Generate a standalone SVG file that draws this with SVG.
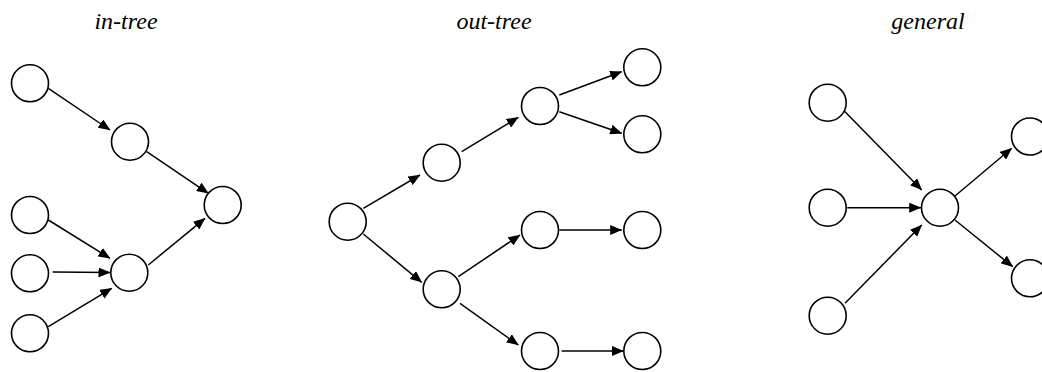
<svg xmlns="http://www.w3.org/2000/svg" width="1042" height="372" viewBox="0 0 1042 372">
<style>
.n{fill:#fff;stroke:#000;stroke-width:1.6}
.e{stroke:#000;stroke-width:1.5;fill:none;marker-end:url(#ah)}
.t{font-family:"Liberation Serif","Times New Roman",serif;font-style:italic;font-size:24px;text-anchor:middle;fill:#000}
</style>
<defs>
<marker id="ah" markerUnits="userSpaceOnUse" markerWidth="12" markerHeight="10" refX="11.5" refY="5" orient="auto">
<path d="M0,0 L12,5 L0,10 Z" fill="#000"/>
</marker>
</defs>
<rect width="1042" height="372" fill="#fff"/>
<g id="labels">
<text class="t" x="126" y="29">in-tree</text>
<text class="t" x="494" y="29">out-tree</text>
<text class="t" x="928" y="29">general</text>
</g>
<g id="connectors">
<line class="e" x1="48.3" y1="88.3" x2="110" y2="130"/>
<line class="e" x1="146.7" y1="151.7" x2="208.3" y2="193.3"/>
<line class="e" x1="148.3" y1="265" x2="205" y2="218.3"/>
<line class="e" x1="48.3" y1="220" x2="110" y2="258.3"/>
<line class="e" x1="52.7" y1="272" x2="110" y2="272.5"/>
<line class="e" x1="48.3" y1="326.7" x2="111.7" y2="288.3"/>
<line class="e" x1="363.3" y1="208.3" x2="420" y2="175"/>
<line class="e" x1="363.3" y1="234" x2="421.7" y2="282.3"/>
<line class="e" x1="461.7" y1="151.7" x2="518.3" y2="117.3"/>
<line class="e" x1="559.3" y1="95" x2="621.7" y2="71.7"/>
<line class="e" x1="559.3" y1="111.7" x2="621.7" y2="133.3"/>
<line class="e" x1="458.3" y1="276.7" x2="520" y2="235"/>
<line class="e" x1="460" y1="303.3" x2="518.3" y2="345"/>
<line class="e" x1="559.3" y1="230" x2="621.7" y2="230"/>
<line class="e" x1="561.7" y1="351" x2="623.3" y2="351"/>
<line class="e" x1="843.3" y1="110" x2="921.7" y2="190"/>
<line class="e" x1="847.3" y1="207.7" x2="920.7" y2="207.7"/>
<line class="e" x1="845" y1="303.3" x2="921.7" y2="225"/>
<line class="e" x1="955" y1="196" x2="1011.7" y2="148.3"/>
<line class="e" x1="955" y1="220" x2="1012.7" y2="266.7"/>
</g>
<g id="in-a"><circle class="n" cx="30" cy="83.3" r="18.5"/></g>
<g id="in-b"><circle class="n" cx="130" cy="141.7" r="18.5"/></g>
<g id="in-c"><circle class="n" cx="222.7" cy="205" r="18.5"/></g>
<g id="in-d"><circle class="n" cx="30" cy="215" r="18.5"/></g>
<g id="in-e"><circle class="n" cx="30" cy="273.3" r="18.5"/></g>
<g id="in-f"><circle class="n" cx="30" cy="333.3" r="18.5"/></g>
<g id="in-g"><circle class="n" cx="129.3" cy="272.7" r="18.5"/></g>
<g id="out-root"><circle class="n" cx="347.7" cy="221.7" r="18.5"/></g>
<g id="out-um"><circle class="n" cx="441.7" cy="162.7" r="18.5"/></g>
<g id="out-lm"><circle class="n" cx="441.7" cy="289.3" r="18.5"/></g>
<g id="out-tm"><circle class="n" cx="540" cy="106" r="18.5"/></g>
<g id="out-l1"><circle class="n" cx="642.3" cy="67.3" r="18.5"/></g>
<g id="out-l2"><circle class="n" cx="642.3" cy="134.3" r="18.5"/></g>
<g id="out-m3"><circle class="n" cx="540" cy="230" r="18.5"/></g>
<g id="out-l3"><circle class="n" cx="642.3" cy="230" r="18.5"/></g>
<g id="out-m4"><circle class="n" cx="540" cy="351" r="18.5"/></g>
<g id="out-l4"><circle class="n" cx="642.3" cy="351" r="18.5"/></g>
<g id="gen-lt"><circle class="n" cx="827.7" cy="102.7" r="18.5"/></g>
<g id="gen-lm"><circle class="n" cx="827.7" cy="207.7" r="18.5"/></g>
<g id="gen-lb"><circle class="n" cx="827.7" cy="315.7" r="18.5"/></g>
<g id="gen-c"><circle class="n" cx="940" cy="207.7" r="18.5"/></g>
<g id="gen-rt"><circle class="n" cx="1030" cy="136.5" r="18.5"/></g>
<g id="gen-rb"><circle class="n" cx="1030" cy="278.3" r="18.5"/></g>
</svg>
